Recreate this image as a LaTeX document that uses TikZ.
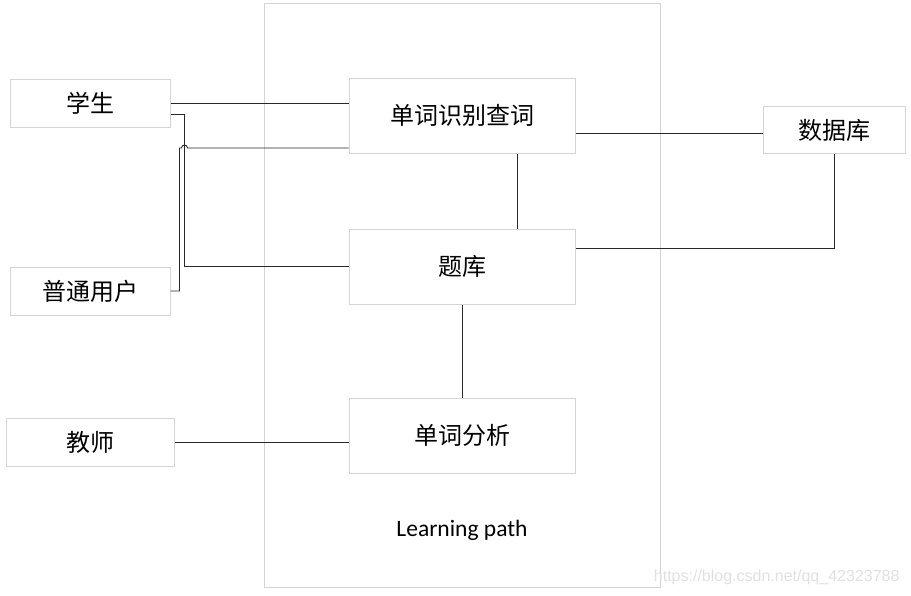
\documentclass[tikz,border=0pt]{standalone}
\usepackage{fontspec}
\setmainfont{Carlito}
\newfontfamily\cjk{Noto Sans CJK SC}
\newfontfamily\wmfont{Liberation Sans}
\usetikzlibrary{positioning,calc}
\definecolor{fg}{rgb}{0,0,0}
\definecolor{edge}{RGB}{212,212,212}
\definecolor{wire}{RGB}{40,40,40}
\tikzstyle{box}=[draw=edge, line width=1pt, fill=white, anchor=center,
text centered, text=fg, font=\cjk\fontsize{24}{28}\selectfont]
\tikzstyle{actor}=[box, minimum width=160pt, minimum height=48pt]
\tikzstyle{usecase}=[box, minimum width=226pt, minimum height=75pt]
\tikzstyle{myline}=[draw=wire, line width=0.9pt]

\begin{document}
\begin{tikzpicture}[x=1pt, y=1pt]
    \useasboundingbox (0,0) rectangle (911,-595);

    % LEARNING PATH
    \node[draw=edge, line width=1pt, minimum width=396pt, minimum height=584pt] (lp) at (462,-295) {};
    \node[above=43pt of lp.south, font=\fontsize{23.5}{28}\selectfont] (lptext) {Learning path};

    % USE CASES
    \node[usecase] (query) at (462,-115.5) {单词识别查词};
    \node[usecase, below=75pt of query] (bank) {题库};
    \node[usecase, below=93pt of bank] (analysis) {单词分析};

    % ACTORS
    \node[actor] (student) at (90,-103) {学生};
    \node[actor, below=139pt of student] (user) {普通用户};
    \node[actor, minimum width=168pt, below=102pt of user] (teacher) {教师};

    \node[box, minimum width=142pt, minimum height=47pt] (db) at (834,-130) {数据库};

    % STUDENT
    \draw[myline] (student.east) -- (student.east -| query.west) ;
    \draw[myline] ([yshift=-11pt]student.east) -- ++(14pt,0) |- (bank.west) ;

    % USER
    \draw[myline] (user.east) -- ++(9pt,0) -- ++(0,143pt) -- ++(2pt,0)
        arc[start angle=180, end angle=0, radius=3pt] -- ([yshift=-32.5pt]query.west) ;

    % TEACHER
    \draw[myline] (teacher.east) -- (teacher.east -| analysis.west) ;

    % DATABASE
    \draw[myline] ([yshift=-3pt]db.west) -- ([yshift=-3pt]db.west -| query.east) ;
    \draw[myline] ([yshift=18.5pt]bank.east) -| (db.south) ;

    % INSIDE
    \draw[myline] ([xshift=55pt]query.south) -- ([xshift=55pt]bank.north) ;
    \draw[myline] (bank.south) -- (analysis.north) ;

    \node[anchor=east, text=black!12, font=\wmfont\fontsize{16}{19}\selectfont] (mark) at (903,-577) {https://blog.csdn.net/qq\_42323788};

\end{tikzpicture}
\end{document}
